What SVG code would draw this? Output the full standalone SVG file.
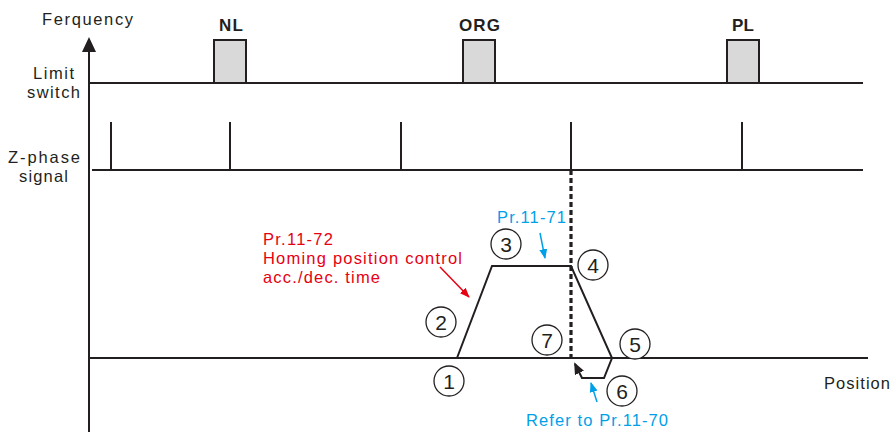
<svg xmlns="http://www.w3.org/2000/svg" width="893" height="432" viewBox="0 0 893 432">
<style>
.ln{stroke:#231f20;stroke-width:2;fill:none}
.box{stroke:#231f20;stroke-width:2;fill:#d9d9d9}
.t{font-family:"Liberation Sans",Arial,sans-serif;font-size:16.5px;fill:#231f20}
.b{font-family:"Liberation Sans",Arial,sans-serif;font-size:17px;font-weight:bold;fill:#231f20}
.red{font-family:"Liberation Sans",Arial,sans-serif;font-size:16.5px;fill:#e60012}
.blue{font-family:"Liberation Sans",Arial,sans-serif;font-size:16.5px;fill:#00a0e9}
.c{fill:#fff;stroke:#231f20;stroke-width:1.3}
.n{font-family:"Liberation Sans",Arial,sans-serif;font-size:21px;fill:#231f20;text-anchor:middle}
</style>
<defs>
<marker id="ar" markerWidth="10" markerHeight="10" refX="9" refY="5" orient="auto" markerUnits="userSpaceOnUse"><path d="M0,1 L10,5 L0,9 Z" fill="#e60012"/></marker>
<marker id="ab" markerWidth="10" markerHeight="10" refX="9" refY="5" orient="auto" markerUnits="userSpaceOnUse"><path d="M0,1 L10,5 L0,9 Z" fill="#00a0e9"/></marker>
<marker id="ak" markerWidth="12" markerHeight="12" refX="10" refY="6" orient="auto" markerUnits="userSpaceOnUse"><path d="M0,1 L12,6 L0,11 Z" fill="#231f20"/></marker>
</defs>
<g id="axes">
<line class="ln" x1="89" y1="50" x2="89" y2="432"/>
<path d="M89,37 L82,52 L96,52 Z" fill="#231f20"/>
<text class="t" x="42" y="25" textLength="91" lengthAdjust="spacing">Ferquency</text>
<text class="t" x="824" y="389" textLength="66" lengthAdjust="spacing">Position</text>
</g>
<g id="limit-switch">
<text class="t" x="33" y="79" textLength="41" lengthAdjust="spacing">Limit</text>
<text class="t" x="27" y="98" textLength="53" lengthAdjust="spacing">switch</text>
<line class="ln" x1="89" y1="83" x2="863" y2="83"/>
<g id="NL"><rect class="box" x="214" y="40" width="32" height="43"/><text class="b" x="219" y="31" textLength="24" lengthAdjust="spacing">NL</text></g>
<g id="ORG"><rect class="box" x="463" y="40" width="32" height="43"/><text class="b" x="459" y="31" textLength="41" lengthAdjust="spacing">ORG</text></g>
<g id="PL"><rect class="box" x="727" y="40" width="32" height="43"/><text class="b" x="732" y="31" textLength="22" lengthAdjust="spacing">PL</text></g>
</g>
<g id="z-phase">
<text class="t" x="8" y="163" textLength="72" lengthAdjust="spacing">Z-phase</text>
<text class="t" x="19" y="182" textLength="49" lengthAdjust="spacing">signal</text>
<line class="ln" x1="92" y1="170" x2="863" y2="170"/>
<path class="ln" d="M111,122 V170 M230,122 V170 M401,122 V170 M571,122 V170 M742,122 V170"/>
</g>
<g id="connectors">
<line x1="571" y1="170" x2="571" y2="358" stroke="#231f20" stroke-width="3.2" stroke-dasharray="5,3"/>
<line class="ln" x1="89" y1="358" x2="868" y2="358"/>
<path class="ln" d="M457,358 L492,266 L571,266 L612,358 L604,378 L582,378 L575,364" marker-end="url(#ak)"/>
<line x1="440" y1="267" x2="469" y2="297" stroke="#e60012" stroke-width="1.5" marker-end="url(#ar)"/>
<line x1="540" y1="233" x2="545" y2="258" stroke="#00a0e9" stroke-width="1.5" marker-end="url(#ab)"/>
<line x1="597" y1="402" x2="591" y2="383" stroke="#00a0e9" stroke-width="1.5" marker-end="url(#ab)"/>
</g>
<g id="labels">
<text class="red" x="263" y="245" textLength="70" lengthAdjust="spacing">Pr.11-72</text>
<text class="red" x="263" y="264" textLength="199" lengthAdjust="spacing">Homing position control</text>
<text class="red" x="263" y="283" textLength="117" lengthAdjust="spacing">acc./dec. time</text>
<text class="blue" x="497" y="223" textLength="69" lengthAdjust="spacing">Pr.11-71</text>
<text class="blue" x="526" y="426" textLength="142" lengthAdjust="spacing">Refer to Pr.11-70</text>
</g>
<g id="p1"><circle class="c" cx="449" cy="381" r="15"/><text class="n" x="449" y="388.5">1</text></g>
<g id="p2"><circle class="c" cx="441" cy="322" r="15"/><text class="n" x="441" y="329.5">2</text></g>
<g id="p3"><circle class="c" cx="506" cy="244" r="15"/><text class="n" x="506" y="251.5">3</text></g>
<g id="p4"><circle class="c" cx="593" cy="265" r="15"/><text class="n" x="593" y="272.5">4</text></g>
<g id="p5"><circle class="c" cx="635" cy="344" r="15"/><text class="n" x="635" y="351.5">5</text></g>
<g id="p6"><circle class="c" cx="622" cy="391" r="15"/><text class="n" x="622" y="398.5">6</text></g>
<g id="p7"><circle class="c" cx="547" cy="340" r="15"/><text class="n" x="547" y="347.5">7</text></g>
</svg>
